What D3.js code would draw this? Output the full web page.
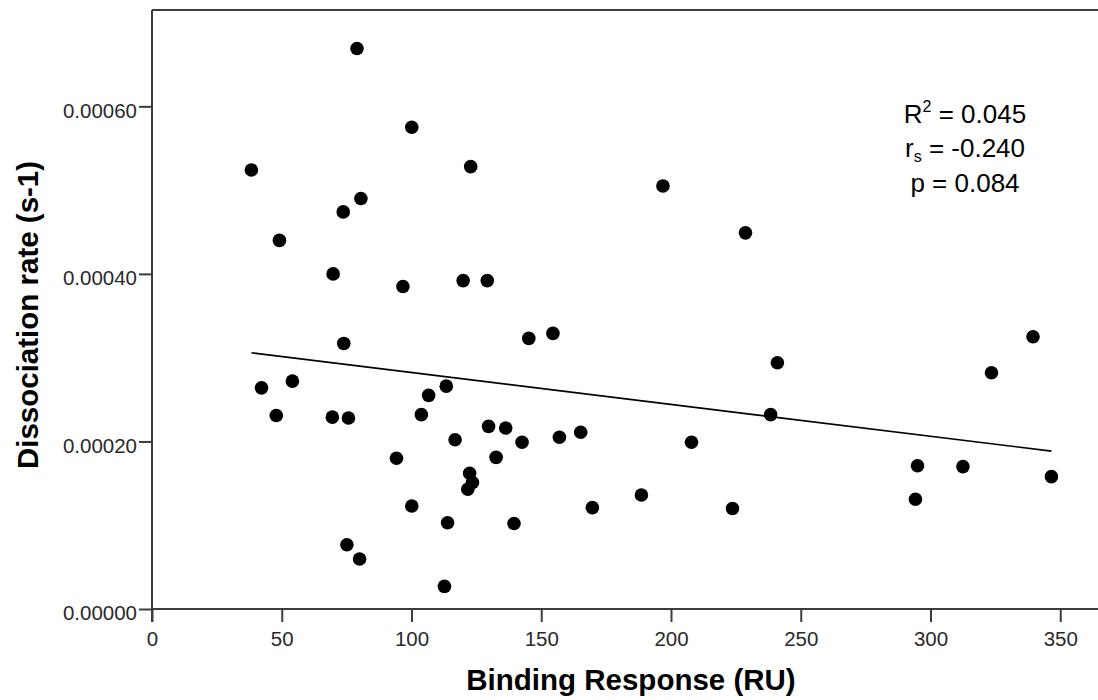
<!DOCTYPE html>
<html>
<head>
<meta charset="utf-8">
<script src="https://cdn.jsdelivr.net/npm/d3@7"></script>
<style>
  html, body { margin: 0; padding: 0; background: #fff; }
  svg { display: block; }
</style>
</head>
<body>
<svg id="chart" width="1098" height="700"></svg>
<script>
// Binding Response (RU)
const bindingResponse = [79.0, 100.1, 38.3, 80.5, 73.7, 49.1, 69.8, 96.7, 73.9, 42.2,
  54.1, 47.9, 69.5, 75.7, 94.2, 100.1, 75.1, 80.0, 122.8, 196.9,
  119.9, 129.2, 145.2, 154.5, 113.4, 106.6, 103.8, 129.7, 136.3, 116.8,
  142.6, 157.0, 165.2, 207.9, 132.6, 122.4, 123.5, 121.7, 169.7, 188.6,
  113.9, 139.5, 112.7, 228.7, 241.0, 238.4, 223.7, 339.5, 323.5, 295.0,
  312.5, 294.2, 346.6];
// Dissociation rate (s-1)
const dissociationRate = [0.000669, 0.000575, 0.000524, 0.000490, 0.000474, 0.000440, 0.000400, 0.000385, 0.000317, 0.000264,
  0.000272, 0.000231, 0.000229, 0.000228, 0.000180, 0.000123, 0.0000767, 0.0000597, 0.000528, 0.000505,
  0.000392, 0.000392, 0.000323, 0.000329, 0.000266, 0.000255, 0.000232, 0.000218, 0.000216, 0.000202,
  0.000199, 0.000205, 0.000211, 0.000199, 0.000181, 0.000162, 0.000151, 0.000143, 0.000121, 0.000136,
  0.000103, 0.000102, 0.0000270, 0.000449, 0.000294, 0.000232, 0.000120, 0.000325, 0.000282, 0.000171,
  0.000170, 0.000131, 0.000158];
// Fitted linear line endpoints
const fitX = [38.3, 346.6];
const fitY = [0.0003058, 0.0001884];
// Tick values
const xTicks = [0, 50, 100, 150, 200, 250, 300, 350];
const yTicks = [0, 0.0002, 0.0004, 0.0006];
const xDomain = [0, 363.7];
const yDomain = [0, 0.000715];
const statsLines = [
  {main: "R", mark: "2", kind: "sup", rest: " = 0.045"},
  {main: "r", mark: "s", kind: "sub", rest: " = -0.240"},
  {main: "p = 0.084", mark: "", kind: "", rest: ""}
];
const xTitle = "Binding Response (RU)";
const yTitle = "Dissociation rate (s-1)";

const svg = d3.select("#chart");
const L = 152, R = 1095.8, T = 10, B = 609;

const x = d3.scaleLinear().domain(xDomain).range([L, R]);
const y = d3.scaleLinear().domain(yDomain).range([B, T]);

const axisColor = "#3c3c3c";
const font = "'Liberation Sans', Arial, sans-serif";

// frame top line
svg.append("line").attr("x1", L).attr("x2", 1100).attr("y1", T).attr("y2", T)
  .attr("stroke", axisColor).attr("stroke-width", 2);

// x axis
const gx = svg.append("g").attr("transform", `translate(0,${B})`)
  .call(d3.axisBottom(x).tickValues(xTicks).tickSize(13).tickSizeOuter(0).tickPadding(9.5).tickFormat(d3.format("d")));
gx.select(".domain").attr("d", `M${L},0H1100`);
// y axis
const gy = svg.append("g").attr("transform", `translate(${L},0)`)
  .call(d3.axisLeft(y).tickValues(yTicks).tickSize(13).tickSizeOuter(0).tickPadding(2).tickFormat(d3.format(".5f")));
gy.select(".domain").attr("d", `M0,${B + 13}V${T}`);

[gx, gy].forEach(g => {
  g.selectAll(".domain").attr("stroke", axisColor).attr("stroke-width", 2);
  g.selectAll(".tick line").attr("stroke", axisColor).attr("stroke-width", 2);
  g.selectAll(".tick text").attr("fill", "#2a2a2a").attr("font-family", font).attr("font-size", 20.5);
});
gy.selectAll(".tick text").attr("dy", "0.52em");

// fit line
svg.append("line")
  .attr("x1", x(fitX[0])).attr("y1", y(fitY[0]))
  .attr("x2", x(fitX[1])).attr("y2", y(fitY[1]))
  .attr("stroke", "#000").attr("stroke-width", 1.6);

// points
svg.append("g").selectAll("circle")
  .data(bindingResponse.map((v, i) => [v, dissociationRate[i]]))
  .join("circle")
  .attr("cx", d => x(d[0])).attr("cy", d => y(d[1]))
  .attr("r", 6.8).attr("fill", "#000");

// stats text
const st = svg.append("g").attr("font-family", font).attr("font-size", 26).attr("fill", "#000");
statsLines.forEach((s, i) => {
  const t = st.append("text").attr("x", 965).attr("y", 123 + i * 34.3).attr("text-anchor", "middle");
  t.append("tspan").text(s.main);
  if (s.mark) {
    t.append("tspan").attr("font-size", 16).attr("dy", s.kind === "sup" ? -11 : 5).text(s.mark);
    t.append("tspan").attr("dy", s.kind === "sup" ? 11 : -5).text(s.rest);
  }
});

// axis titles
svg.append("text").attr("x", 631).attr("y", 690).attr("text-anchor", "middle")
  .attr("font-family", font).attr("font-weight", "bold").attr("font-size", 29.5).attr("fill", "#000")
  .text(xTitle);
svg.append("text").attr("transform", "translate(38,315) rotate(-90)").attr("text-anchor", "middle")
  .attr("font-family", font).attr("font-weight", "bold").attr("font-size", 29.5).attr("fill", "#000")
  .text(yTitle);
</script>
</body>
</html>
